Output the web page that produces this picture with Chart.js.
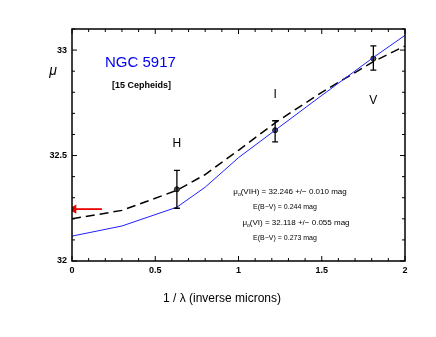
<!DOCTYPE html>
<html>
<head>
<meta charset="utf-8">
<script src="https://cdn.jsdelivr.net/npm/chart.js@4/dist/chart.umd.min.js"></script>
<style>
  html, body { margin: 0; padding: 0; background: #fff; }
  #wrap { width: 436px; height: 337px; }
</style>
</head>
<body>
<div id="wrap"><canvas id="grafico" width="436" height="337"></canvas></div>
<script>
// bandas observadas (H, I, V)
const bandas = ['H', 'I', 'V'];
const bandaX = [0.63, 1.22, 1.81];
const bandaY = [32.34, 32.62, 32.96];
const erroBaixo = [32.25, 32.565, 32.905];
const erroAlto = [32.43, 32.665, 33.02];

// ajuste VI (linha azul)
const ajusteViX = [0, 0.3, 0.63, 0.8, 1.0, 1.22, 1.5, 1.81, 2.0];
const ajusteViY = [32.118, 32.166, 32.255, 32.35, 32.49, 32.62, 32.785, 32.965, 33.07];

// ajuste VIH (linha tracejada)
const ajusteVihX = [0, 0.3, 0.63, 0.8, 1.0, 1.22, 1.5, 1.81, 2.0];
const ajusteVihY = [32.2, 32.24, 32.335, 32.41, 32.525, 32.655, 32.8, 32.945, 33.02];

// seta vermelha (mu0 VIH)
const setaX = [0.18, 0.01];
const setaY = [32.246, 32.246];

const ticksX = [0, 0.5, 1, 1.5, 2];
const ticksY = [32, 32.5, 33];

const fonte = '"Liberation Sans", Arial, Helvetica, sans-serif';

function pares(xs, ys) {
    return xs.map((x, i) => ({x: x, y: ys[i]}));
}

// texto com subscrito "o" depois do mu
function textoMu(ctx, cx, cy, resto) {
    ctx.font = '8px ' + fonte;
    let wMu = ctx.measureText('\u03bc').width;
    ctx.font = '5px ' + fonte;
    let wO = ctx.measureText('o').width;
    ctx.font = '8px ' + fonte;
    let wResto = ctx.measureText(resto).width;
    let x0 = cx - (wMu + wO + wResto) / 2;
    ctx.textAlign = 'left';
    ctx.fillText('\u03bc', x0, cy);
    ctx.font = '5px ' + fonte;
    ctx.fillText('o', x0 + wMu, cy + 3);
    ctx.font = '8px ' + fonte;
    ctx.fillText(resto, x0 + wMu + wO, cy);
}

const extras = {
    id: 'extras',
    afterDatasetsDraw(chart) {
        const ctx = chart.ctx;
        const xs = chart.scales.x;
        const ys = chart.scales.y;
        const area = chart.chartArea;
        ctx.save();

        // barras de erro
        ctx.strokeStyle = '#000';
        ctx.lineWidth = 1.3;
        bandaX.forEach((bx, i) => {
            let px = xs.getPixelForValue(bx);
            let y1 = ys.getPixelForValue(erroBaixo[i]);
            let y2 = ys.getPixelForValue(erroAlto[i]);
            ctx.beginPath();
            ctx.moveTo(px, y1); ctx.lineTo(px, y2);
            ctx.moveTo(px - 3, y1); ctx.lineTo(px + 3, y1);
            ctx.moveTo(px - 3, y2); ctx.lineTo(px + 3, y2);
            ctx.stroke();
        });

        // caixa
        ctx.lineWidth = 1.5;
        ctx.strokeRect(area.left, area.top, area.right - area.left, area.bottom - area.top);

        // ticks para dentro, nos quatro lados
        ctx.lineWidth = 1;
        for (let i = 0; i <= 20; i++) {
            let v = i / 10;
            let px = xs.getPixelForValue(v);
            let len = (i % 5 == 0) ? 5 : 3;
            ctx.beginPath();
            ctx.moveTo(px, area.bottom); ctx.lineTo(px, area.bottom - len);
            ctx.moveTo(px, area.top); ctx.lineTo(px, area.top + len);
            ctx.stroke();
        }
        for (let i = 0; i <= 11; i++) {
            let v = 32 + i / 10;
            if (v > ys.max) break;
            let py = ys.getPixelForValue(v);
            let len = (i % 5 == 0) ? 5 : 3;
            ctx.beginPath();
            ctx.moveTo(area.left, py); ctx.lineTo(area.left + len, py);
            ctx.moveTo(area.right, py); ctx.lineTo(area.right - len, py);
            ctx.stroke();
        }

        // textos
        ctx.fillStyle = '#0000ee';
        ctx.textAlign = 'left';
        ctx.textBaseline = 'middle';
        ctx.font = '15px ' + fonte;
        ctx.fillText('NGC 5917', 105, 63);

        ctx.fillStyle = '#000';
        ctx.font = 'bold 9px ' + fonte;
        ctx.fillText('[15 Cepheids]', 112, 86);

        ctx.font = '12px ' + fonte;
        ctx.textAlign = 'center';
        const posRotulo = [32.555, 32.79, 32.76];
        bandas.forEach((b, i) => {
            ctx.fillText(b, xs.getPixelForValue(bandaX[i]), ys.getPixelForValue(posRotulo[i]));
        });

        textoMu(ctx, 290, 192, '(VIH) = 32.246 +/\u2212 0.010 mag');
        ctx.font = '7px ' + fonte;
        ctx.textAlign = 'center';
        ctx.fillText('E(B\u2212V) = 0.244 mag', 285, 207);
        textoMu(ctx, 296, 223, '(VI) = 32.118 +/\u2212 0.055 mag');
        ctx.font = '7px ' + fonte;
        ctx.textAlign = 'center';
        ctx.fillText('E(B\u2212V) = 0.273 mag', 285, 238);

        // titulos dos eixos
        ctx.font = 'italic 14px ' + fonte;
        ctx.fillText('\u03bc', 53, 71);
        ctx.font = '12px ' + fonte;
        ctx.fillText('1 / \u03bb (inverse microns)', 222, 299);

        ctx.restore();
    }
};

const ctx = document.getElementById('grafico').getContext('2d');

new Chart(ctx, {
    type: 'scatter',
    data: {
        datasets: [{
            data: pares(ajusteViX, ajusteViY),
            showLine: true,
            borderColor: '#1f1fff',
            borderWidth: 1,
            pointRadius: 0,
            tension: 0
        }, {
            data: pares(ajusteVihX, ajusteVihY),
            showLine: true,
            borderColor: '#000',
            borderWidth: 1.5,
            borderDash: [9, 5],
            pointRadius: 0,
            tension: 0
        }, {
            data: pares(bandaX, bandaY),
            showLine: false,
            pointRadius: 2.5,
            pointBackgroundColor: '#555',
            pointBorderColor: '#111',
            pointBorderWidth: 1
        }, {
            data: pares(setaX, setaY),
            showLine: true,
            borderColor: '#ee0000',
            borderWidth: 1.8,
            pointStyle: [false, 'triangle'],
            pointRotation: -90,
            pointRadius: [0, 3.5],
            pointBackgroundColor: '#ee0000',
            pointBorderColor: '#ee0000'
        }]
    },
    options: {
        responsive: false,
        animation: false,
        devicePixelRatio: 1,
        layout: { padding: { top: 29, right: 31, left: 0, bottom: 0 } },
        plugins: {
            legend: { display: false },
            tooltip: { enabled: false }
        },
        scales: {
            x: {
                type: 'linear',
                min: 0,
                max: 2,
                afterFit: scale => { scale.height = 76; },
                afterBuildTicks: scale => { scale.ticks = ticksX.map(v => ({value: v})); },
                grid: { display: false, drawTicks: false, tickLength: 0 },
                border: { display: false },
                ticks: {
                    padding: 4,
                    color: '#000',
                    font: { family: fonte, size: 9, weight: 'bold' },
                    callback: v => String(v)
                }
            },
            y: {
                type: 'linear',
                min: 32,
                max: 33.1,
                afterFit: scale => { scale.width = 72; },
                afterBuildTicks: scale => { scale.ticks = ticksY.map(v => ({value: v})); },
                grid: { display: false, drawTicks: false, tickLength: 0 },
                border: { display: false },
                ticks: {
                    padding: 5,
                    color: '#000',
                    font: { family: fonte, size: 9, weight: 'bold' },
                    callback: v => String(v)
                }
            }
        }
    },
    plugins: [extras]
});
</script>
</body>
</html>
